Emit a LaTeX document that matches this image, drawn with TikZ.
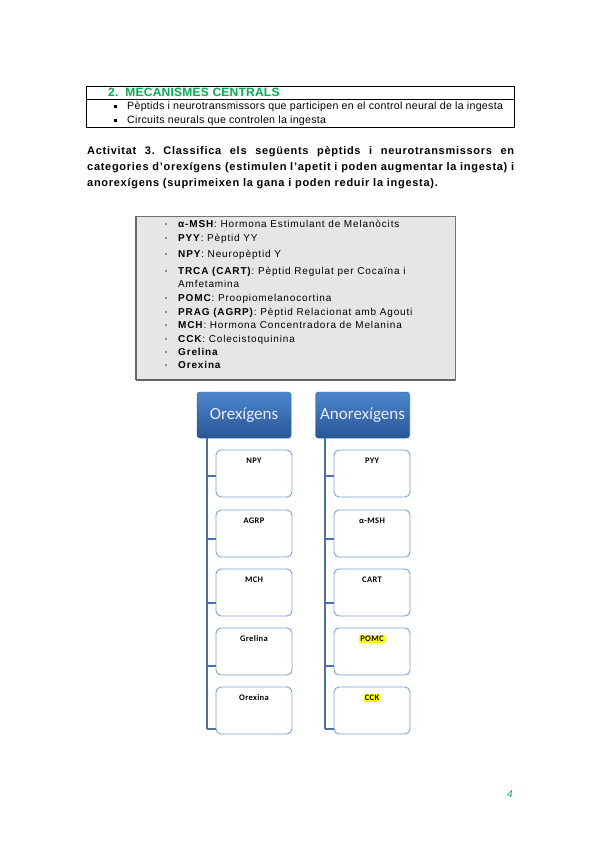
\documentclass[tikz,border=0pt]{standalone}
\usepackage{fontspec}
\setmainfont{Liberation Sans}
\newfontfamily\calibri{Carlito}
\usetikzlibrary{shadows}
\definecolor{hdgreen}{RGB}{0,176,80}
\definecolor{boxgray}{RGB}{230,230,230}
\definecolor{blueline}{RGB}{79,111,168}
\definecolor{childborder}{RGB}{122,159,208}
\definecolor{bluetop}{RGB}{74,134,204}
\definecolor{bluebot}{RGB}{40,86,152}
\definecolor{hilite}{RGB}{255,255,0}
\frenchspacing
\tikzset{
  txt/.style={anchor=base west, inner sep=0pt, font=\fontsize{10.6}{12}\selectfont\addfontfeatures{LetterSpace=2.8}},
  listtxt/.style={anchor=base west, inner sep=0pt, font=\fontsize{10}{11}\selectfont\addfontfeatures{LetterSpace=8.5}},
  acttxt/.style={anchor=base west, inner sep=0pt, font=\fontsize{11}{13}\selectfont\bfseries\addfontfeatures{LetterSpace=6.5}},
  header/.style={draw=bluebot, rounded corners=3pt, top color=bluetop, bottom color=bluebot,
     minimum width=94pt, minimum height=46pt, inner sep=0pt, text=white!92!blue,
     font=\calibri\fontsize{17}{19}\selectfont, drop shadow={opacity=0.25, shadow xshift=1pt, shadow yshift=-1pt}},
  child/.style={draw=childborder, line width=0.9pt, rounded corners=5pt, fill=white,
     minimum width=76pt, minimum height=47pt, inner sep=0pt},
  childtxt/.style={anchor=base, inner sep=0pt, font=\calibri\bfseries\fontsize{8.5}{10}\selectfont\addfontfeatures{LetterSpace=4}},
  conn/.style={draw=blueline, line width=1.1pt},
  sqbullet/.style={fill=black, minimum size=3.2pt, inner sep=0pt},
  dotbullet/.style={circle, fill=black!80, minimum size=1.8pt, inner sep=0pt}
}
\begin{document}
\begin{tikzpicture}[x=1pt,y=-1pt]
\useasboundingbox[fill=white] (0,0) rectangle (599,848);

% ---- top table ----
\draw[line width=0.6pt] (86,86) rectangle (514,127);
\draw[line width=0.6pt] (86,99.5) -- (514,99.5);
\node[txt, font=\fontsize{12}{14}\selectfont\bfseries\addfontfeatures{LetterSpace=2}, text=hdgreen] (hdr) at (108,97) {2.\hspace{7pt}MECANISMES CENTRALS};
\node[sqbullet] (b1) at (115.5,106.5) {};
\node[sqbullet] (b2) at (115.5,120.5) {};
\node[txt] (t1) at (127,110) {Pèptids i neurotransmissors que participen en el control neural de la ingesta};
\node[txt] (t2) at (127,124) {Circuits neurals que controlen la ingesta};

% ---- activitat ----
\node[acttxt] (a1) at (87,154) {\makebox[427pt][s]{Activitat 3. Classifica els següents pèptids i neurotransmissors en}};
\node[acttxt] (a2) at (87,170) {\makebox[427pt][s]{categories d’orexígens (estimulen l’apetit i poden augmentar la ingesta) i}};
\node[acttxt] (a3) at (87,186) {anorexígens (suprimeixen la gana i poden reduir la ingesta).};

% ---- gray list box ----
\draw[fill=boxgray, draw=black!55, line width=0.6pt] (136,216) rectangle (455,380);
\draw[draw=black!60, line width=1.4pt] (136,380) -- (455,380);
\draw[draw=black!60, line width=1.2pt] (136,216) -- (136,380);
\foreach \y/\nm in {227/l1,241/l2,257/l3,274/l4,301/l5,315/l6,328/l7,342/l8,355/l9,368/l10}{
  \node[dotbullet] (d\nm) at (166,\y-3) {};
}
\node[listtxt] (l1) at (178,227) {\textbf{α-MSH}: Hormona Estimulant de Melanòcits};
\node[listtxt] (l2) at (178,241) {\textbf{PYY}: Pèptid YY};
\node[listtxt] (l3) at (178,257) {\textbf{NPY}: Neuropèptid Y};
\node[listtxt] (l4) at (178,274) {\textbf{TRCA (CART)}: Pèptid Regulat per Cocaïna i};
\node[listtxt] (l4b) at (178,287) {Amfetamina};
\node[listtxt] (l5) at (178,301) {\textbf{POMC}: Proopiomelanocortina};
\node[listtxt] (l6) at (178,315) {\textbf{PRAG (AGRP)}: Pèptid Relacionat amb Agouti};
\node[listtxt] (l7) at (178,328) {\textbf{MCH}: Hormona Concentradora de Melanina};
\node[listtxt] (l8) at (178,342) {\textbf{CCK}: Colecistoquinina};
\node[listtxt] (l9) at (178,355) {\textbf{Grelina}};
\node[listtxt] (l10) at (178,368) {\textbf{Orexina}};

% ---- chart ----
\node[header] (ox) at (244,415) {Orexígens};
\node[header] (ax) at (362.5,415) {Anorexígens};

\foreach \i/\y/\ly in {1/473.5/476,2/533.5/539,3/592.5/603,4/651.5/666,5/710.5/729}{
  \node[child] (lc\i) at (254,\y) {};
  \node[child] (rc\i) at (372,\y) {};
  \coordinate (lj\i) at (207,\ly);
  \coordinate (rj\i) at (325,\ly);
  \draw[conn] (lj\i) -- (lc\i.west |- lj\i);
  \draw[conn] (rj\i) -- (rc\i.west |- rj\i);
}
\draw[conn] (ox.south -| lj1) -- (lj5);
\draw[conn] (ax.south -| rj1) -- (rj5);

\node[childtxt] (n1) at ([yshift=-14pt]lc1.north) {NPY};
\node[childtxt] (n2) at ([yshift=-14pt]lc2.north) {AGRP};
\node[childtxt] (n3) at ([yshift=-14pt]lc3.north) {MCH};
\node[childtxt] (n4) at ([yshift=-14pt]lc4.north) {Grelina};
\node[childtxt] (n5) at ([yshift=-14pt]lc5.north) {Orexina};
\node[childtxt] (m1) at ([yshift=-14pt]rc1.north) {PYY};
\node[childtxt] (m2) at ([yshift=-14pt]rc2.north) {α-MSH};
\node[childtxt] (m3) at ([yshift=-14pt]rc3.north) {CART};
\node[childtxt, fill=hilite, inner sep=1pt] (m4) at ([yshift=-14pt]rc4.north) {POMC};
\node[childtxt, fill=hilite, inner sep=1pt] (m5) at ([yshift=-14pt]rc5.north) {CCK};

% ---- page number ----
\node[anchor=base, inner sep=0pt, text=hdgreen, font=\fontsize{10}{12}\selectfont\itshape] (pg) at (510,797) {4};
\end{tikzpicture}
\end{document}
